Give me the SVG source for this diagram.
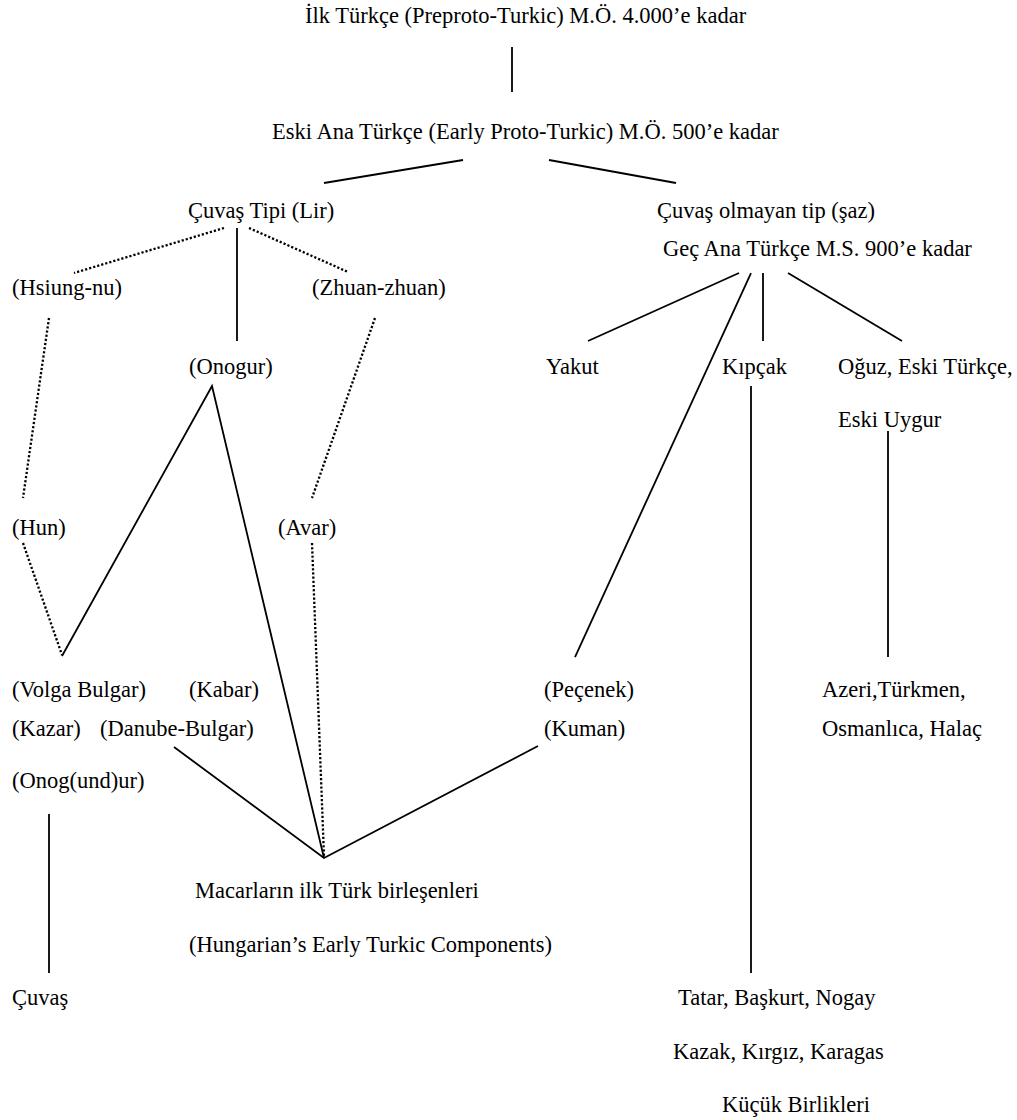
<svg xmlns="http://www.w3.org/2000/svg" width="1017" height="1120" viewBox="0 0 1017 1120">
<style>
text{font-family:"Liberation Serif","Times New Roman",serif;font-size:22.5px;fill:#000}
.s{stroke:#000;stroke-width:1.8;fill:none}
.d{stroke:#000;stroke-width:2.3;fill:none;stroke-dasharray:2.2 2}
</style>
<rect width="1017" height="1120" fill="#fff"/>
<g id="connectors">
<line class="s" x1="512" y1="47" x2="512" y2="92"/>
<line class="s" x1="463" y1="160" x2="324" y2="183"/>
<line class="s" x1="549" y1="160" x2="676" y2="183"/>
<line class="d" x1="224" y1="228" x2="74" y2="273"/>
<line class="s" x1="237" y1="228" x2="237" y2="341"/>
<line class="d" x1="249" y1="228" x2="348" y2="272"/>
<line class="d" x1="49" y1="318" x2="23" y2="498"/>
<line class="d" x1="375" y1="318" x2="312" y2="498"/>
<line class="d" x1="23" y1="543" x2="62" y2="655"/>
<polyline class="s" points="62,656 212,386 324,858"/>
<line class="d" x1="312" y1="543" x2="324" y2="856"/>
<polyline class="s" points="174,747 324,858 538,746"/>
<line class="s" x1="49" y1="814" x2="49" y2="973"/>
<line class="s" x1="739" y1="273" x2="588" y2="341"/>
<line class="s" x1="751" y1="273" x2="575" y2="657"/>
<line class="s" x1="763" y1="273" x2="763" y2="341"/>
<line class="s" x1="788" y1="273" x2="902" y2="341"/>
<line class="s" x1="751" y1="386" x2="751" y2="973"/>
<line class="s" x1="888" y1="431" x2="888" y2="657"/>
</g>
<g id="n-ilk"><text x="305" y="23">İlk Türkçe (Preproto-Turkic) M.Ö. 4.000’e kadar</text></g>
<g id="n-eski"><text x="272" y="139">Eski Ana Türkçe (Early Proto-Turkic) M.Ö. 500’e kadar</text></g>
<g id="n-cuvastipi"><text x="188" y="218">Çuvaş Tipi (Lir)</text></g>
<g id="n-cuvasolmayan"><text x="657" y="218">Çuvaş olmayan tip (şaz)</text></g>
<g id="n-gec"><text x="663" y="256">Geç Ana Türkçe M.S. 900’e kadar</text></g>
<g id="n-hsiung"><text x="12" y="295">(Hsiung-nu)</text></g>
<g id="n-zhuan"><text x="312" y="295">(Zhuan-zhuan)</text></g>
<g id="n-onogur"><text x="189" y="374">(Onogur)</text></g>
<g id="n-yakut"><text x="546" y="374">Yakut</text></g>
<g id="n-kipcak"><text x="722" y="374">Kıpçak</text></g>
<g id="n-oguz"><text x="838" y="374">Oğuz, Eski Türkçe,</text><text x="838" y="427">Eski Uygur</text></g>
<g id="n-hun"><text x="12" y="535">(Hun)</text></g>
<g id="n-avar"><text x="278" y="535">(Avar)</text></g>
<g id="n-volga"><text x="12" y="697">(Volga Bulgar)</text></g>
<g id="n-kabar"><text x="189" y="697">(Kabar)</text></g>
<g id="n-pecenek"><text x="544" y="697">(Peçenek)</text></g>
<g id="n-azeri"><text x="822" y="697">Azeri,Türkmen,</text><text x="822" y="736">Osmanlıca, Halaç</text></g>
<g id="n-kazar"><text x="12" y="736">(Kazar)</text></g>
<g id="n-danube"><text x="100" y="736">(Danube-Bulgar)</text></g>
<g id="n-kuman"><text x="544" y="736">(Kuman)</text></g>
<g id="n-onogundur"><text x="12" y="788">(Onog(und)ur)</text></g>
<g id="n-macar"><text x="195" y="898">Macarların ilk Türk birleşenleri</text><text x="189" y="952">(Hungarian’s Early Turkic Components)</text></g>
<g id="n-cuvas"><text x="12" y="1005">Çuvaş</text></g>
<g id="n-tatar"><text x="678" y="1005">Tatar, Başkurt, Nogay</text><text x="673" y="1059">Kazak, Kırgız, Karagas</text><text x="722" y="1112">Küçük Birlikleri</text></g>
</svg>
